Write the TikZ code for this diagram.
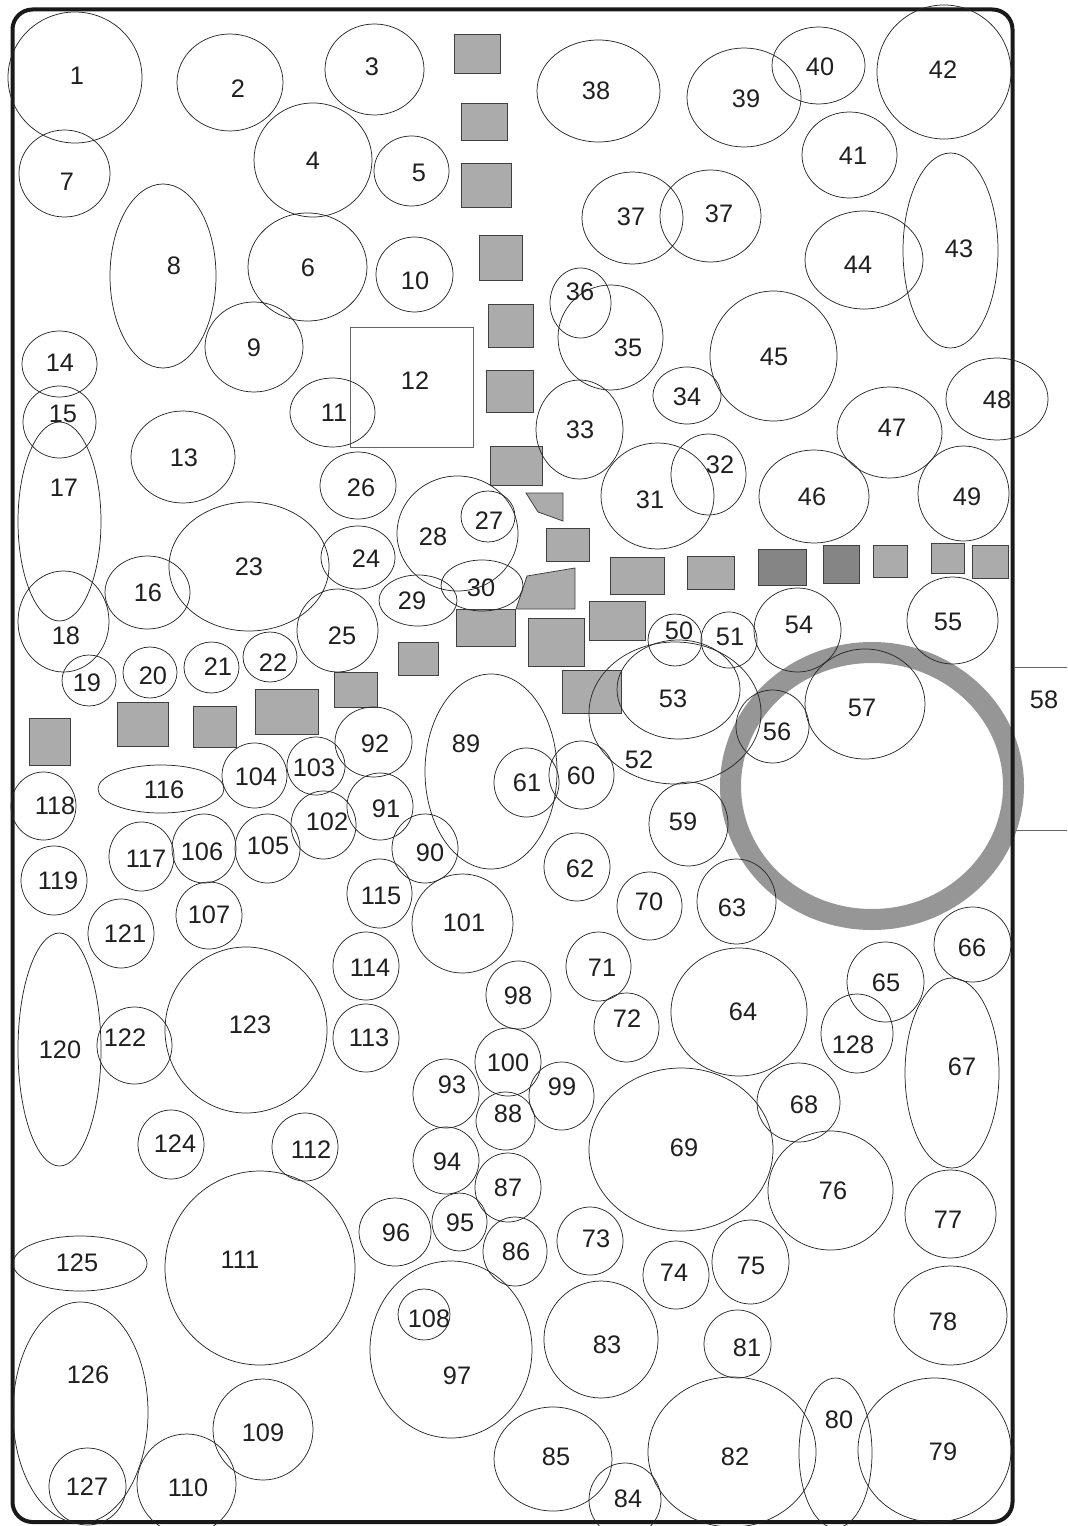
\documentclass[tikz,border=0pt]{standalone}
\usepackage{fontspec}
\setmainfont{Liberation Sans}
\begin{document}
\begin{tikzpicture}[x=0.75pt,y=-0.75pt,
  shp/.style={draw=black!85, line width=0.55pt},
  gbox/.style={fill=black!33, draw=black!75, line width=0.6pt},
  dbox/.style={fill=black!48, draw=black!75, line width=0.6pt},
  lab/.style={font=\fontsize{19}{20}\selectfont, text=black!88, inner sep=0pt},
  thinln/.style={draw=black!60, line width=0.6pt}]
\useasboundingbox (0,0) rectangle (1067,1526);
% ring
\draw[draw=black!41, line width=15.75pt] (872,786) ellipse [x radius=141.5, y radius=133.5];
% border
\draw[draw=black!90, line width=3pt, rounded corners=15pt] (12.5,9.5) rectangle (1012.5,1522);
% 58 lines
\draw[thinln] (1014,667) -- (1067,667);
\draw[thinln] (1014,830) -- (1067,830);
% rectangle 12
\draw[thinln] (350,327) rectangle (473,447);
% gray boxes
\filldraw[gbox] (454,34) rectangle (500,73);
\filldraw[gbox] (461,103) rectangle (507,140);
\filldraw[gbox] (461,163) rectangle (511,207);
\filldraw[gbox] (479,235) rectangle (522,280);
\filldraw[gbox] (488,304) rectangle (533,347);
\filldraw[gbox] (486,370) rectangle (533,412);
\filldraw[gbox] (490,446) rectangle (542,485);
\filldraw[gbox] (526,493) -- (563,493) -- (563,521) -- (538,512) -- cycle;
\filldraw[gbox] (546,528) rectangle (589,561);
\filldraw[gbox] (527,576) -- (575,568) -- (575,609) -- (516,609) -- cycle;
\filldraw[gbox] (456,609) rectangle (515,646);
\filldraw[gbox] (398,642) rectangle (438,675);
\filldraw[gbox] (528,618) rectangle (584,666);
\filldraw[gbox] (589,601) rectangle (645,640);
\filldraw[gbox] (610,557) rectangle (664,594);
\filldraw[gbox] (687,556) rectangle (734,589);
\filldraw[gbox] (562,670) rectangle (621,713);
\filldraw[dbox] (758,549) rectangle (806,585);
\filldraw[dbox] (823,545) rectangle (859,583);
\filldraw[gbox] (873,545) rectangle (907,577);
\filldraw[gbox] (931,543) rectangle (964,573);
\filldraw[gbox] (972,545) rectangle (1008,578);
\filldraw[gbox] (29,718) rectangle (70,765);
\filldraw[gbox] (117,702) rectangle (168,746);
\filldraw[gbox] (193,706) rectangle (236,747);
\filldraw[gbox] (255,689) rectangle (318,734);
\filldraw[gbox] (334,672) rectangle (377,707);
% ellipses
\foreach \cx/\cy/\rx/\ry in {
 75/77.5/67/65.5, 230/82.5/53/48.5, 374.5/69.5/49.5/45.5, 313/160/59/57,
 411.5/171/37.5/35, 307.5/267/59.5/54, 64.5/173.5/45.5/43.5, 163/276/53/92,
 254/347/49/45, 414.5/274.5/38.5/37.5, 332.5/412.5/42.5/34.5, 183/457/52/46,
 59.5/364/37.5/33, 59.5/422/36.5/36, 147.5/592.5/42.5/36.5, 59.5/521.5/41.5/99.5,
 63.5/621.5/45.5/50.5, 89/680.5/27/25.5, 150/672.5/27/25.5, 211.5/667.5/27.5/25.5,
 270/657/27/25, 249/566.5/80/64.5, 358/557.5/37/31.5, 337.5/630.5/40.5/41.5,
 358/485.5/38/33.5, 488/516.5/27/25.5, 457.5/533.5/60.5/57.5, 418/600.5/39/25.5,
 482/585.5/41/25.5, 657.5/496/56.5/53, 708.5/474.5/37.5/40.5, 579.5/429.5/43.5/49.5,
 687/395.5/34/28.5, 610.5/337.5/52.5/52.5, 580.5/303/30.5/35, 632.5/218/50.5/46,
 710.5/216/50.5/46, 598.5/91/61.5/51, 744/97.5/57/49.5, 818.5/65.5/46.5/38.5,
 849.5/155/47.5/43, 944/72/67/67, 950.5/250.5/47.5/97.5, 864/260/59/49,
 773.5/356/63.5/65, 814/496.5/55/46.5, 889.5/432.5/52.5/45.5, 997/399/51/41,
 963.5/493.5/45.5/47.5, 675/640/27/26, 729/640/28/28, 675/713/86/71,
 678.5/689.5/61.5/49.5, 797.5/630/43.5/42, 952.5/620.5/45.5/43.5, 772.5/726.5/36.5/36.5,
 865/704/60/55, 688.5/824/39.5/42, 581.5/775/32.5/34, 526.5/782.5/32.5/34.5,
 577/867/33/34, 736.5/901.5/39.5/42.5, 739/1012/68/64, 885.5/982/38.5/40,
 972.5/944.5/38.5/37.5, 952/1073/47/95, 798.5/1102.5/41.5/39.5, 681/1149.5/92/81.5,
 649.5/906/32.5/34, 598.5/966.5/32.5/34.5, 626.5/1027.5/32.5/34.5, 590/1241/33/34,
 676/1275/33/34, 750.5/1262/38.5/42, 830.5/1190.5/62.5/59.5, 950.5/1214/45.5/44,
 950.5/1315.5/56.5/49.5, 934.5/1450/76.5/72, 835.5/1453/36.5/75, 737.5/1344/33.5/34,
 732/1452/84/75, 601/1339.5/57/58.5, 625/1500/36/37, 553/1459/59/52,
 515/1251.5/32/34.5, 508/1187.5/33/34.5, 505.5/1121/29.5/29, 491/771.5/66/97.5,
 425/848.5/33/34.5, 380/806.5/33/33.5, 373.5/742/38.5/35, 446/1093.5/33/34.5,
 446/1160.5/33/33.5, 459.5/1222/27.5/29, 395/1232/36/34, 451/1349.5/81/88.5,
 518.5/995/32.5/34, 561.5/1096/32.5/34, 508/1062/33/34, 462.5/923.5/50.5/49.5,
 323.5/825/32.5/34, 316/766/29/29, 254.5/775.5/32.5/32.5, 267.5/848.5/32.5/34.5,
 204/848.5/32/34.5, 209/915.5/33/33.5, 424/1314.5/26/25.5, 263/1429.5/50/50.5,
 186.5/1484/49.5/50, 260/1268/95/97, 305/1147/33/34, 366/1038/33/34,
 366/966/33/34, 379.5/893.5/32.5/34.5, 161/789/63/24, 141.5/856.5/32.5/34.5,
 43.5/806/32.5/34, 54/880.5/33/34.5, 59.5/1049.5/41.5/116.5, 121/933.5/33/34.5,
 134.5/1045.5/37.5/38.5, 246/1030/81/83, 171/1144.5/33/34.5, 80/1263.5/67/27.5,
 80.5/1412.5/67.5/110.5, 87.5/1486.5/38.5/38.5, 857/1033.5/36/39.5}
 \draw[shp] (\cx,\cy) ellipse [x radius=\rx, y radius=\ry];
% labels
\node[lab] (l1) at (77,76) {1};
\node[lab] (l2) at (238,89) {2};
\node[lab] (l3) at (372,67) {3};
\node[lab] (l4) at (313,161) {4};
\node[lab] (l5) at (419,173) {5};
\node[lab] (l6) at (308,268) {6};
\node[lab] (l7) at (67,182) {7};
\node[lab] (l8) at (174,266) {8};
\node[lab] (l9) at (254,348) {9};
\node[lab] (l10) at (415,281) {10};
\node[lab] (l11) at (334,413) {11};
\node[lab] (l12) at (415,381) {12};
\node[lab] (l13) at (184,458) {13};
\node[lab] (l14) at (60,363) {14};
\node[lab] (l15) at (63,414) {15};
\node[lab] (l16) at (148,593) {16};
\node[lab] (l17) at (64,488) {17};
\node[lab] (l18) at (66,636) {18};
\node[lab] (l19) at (87,683) {19};
\node[lab] (l20) at (153,676) {20};
\node[lab] (l21) at (218,667) {21};
\node[lab] (l22) at (273,663) {22};
\node[lab] (l23) at (249,567) {23};
\node[lab] (l24) at (366,559) {24};
\node[lab] (l25) at (342,636) {25};
\node[lab] (l26) at (361,488) {26};
\node[lab] (l27) at (489,521) {27};
\node[lab] (l28) at (433,537) {28};
\node[lab] (l29) at (412,601) {29};
\node[lab] (l30) at (481,588) {30};
\node[lab] (l31) at (650,500) {31};
\node[lab] (l32) at (720,465) {32};
\node[lab] (l33) at (580,430) {33};
\node[lab] (l34) at (687,397) {34};
\node[lab] (l35) at (628,348) {35};
\node[lab] (l36) at (580,292) {36};
\node[lab] (l37a) at (631,217) {37};
\node[lab] (l37b) at (719,214) {37};
\node[lab] (l38) at (596,91) {38};
\node[lab] (l39) at (746,99) {39};
\node[lab] (l40) at (820,67) {40};
\node[lab] (l41) at (853,156) {41};
\node[lab] (l42) at (943,70) {42};
\node[lab] (l43) at (959,249) {43};
\node[lab] (l44) at (858,265) {44};
\node[lab] (l45) at (774,357) {45};
\node[lab] (l46) at (812,497) {46};
\node[lab] (l47) at (892,428) {47};
\node[lab] (l48) at (997,400) {48};
\node[lab] (l49) at (967,497) {49};
\node[lab] (l50) at (679,631) {50};
\node[lab] (l51) at (730,637) {51};
\node[lab] (l52) at (639,760) {52};
\node[lab] (l53) at (673,699) {53};
\node[lab] (l54) at (799,625) {54};
\node[lab] (l55) at (948,622) {55};
\node[lab] (l56) at (777,732) {56};
\node[lab] (l57) at (862,708) {57};
\node[lab] (l58) at (1044,700) {58};
\node[lab] (l59) at (683,822) {59};
\node[lab] (l60) at (581,776) {60};
\node[lab] (l61) at (527,783) {61};
\node[lab] (l62) at (580,869) {62};
\node[lab] (l63) at (732,908) {63};
\node[lab] (l64) at (743,1012) {64};
\node[lab] (l65) at (886,983) {65};
\node[lab] (l66) at (972,948) {66};
\node[lab] (l67) at (962,1067) {67};
\node[lab] (l68) at (804,1105) {68};
\node[lab] (l69) at (684,1148) {69};
\node[lab] (l70) at (649,902) {70};
\node[lab] (l71) at (602,968) {71};
\node[lab] (l72) at (627,1019) {72};
\node[lab] (l73) at (596,1239) {73};
\node[lab] (l74) at (674,1273) {74};
\node[lab] (l75) at (751,1266) {75};
\node[lab] (l76) at (833,1191) {76};
\node[lab] (l77) at (948,1220) {77};
\node[lab] (l78) at (943,1322) {78};
\node[lab] (l79) at (943,1452) {79};
\node[lab] (l80) at (839,1420) {80};
\node[lab] (l81) at (747,1348) {81};
\node[lab] (l82) at (735,1457) {82};
\node[lab] (l83) at (607,1345) {83};
\node[lab] (l84) at (628,1499) {84};
\node[lab] (l85) at (556,1457) {85};
\node[lab] (l86) at (516,1252) {86};
\node[lab] (l87) at (508,1188) {87};
\node[lab] (l88) at (508,1114) {88};
\node[lab] (l89) at (466,744) {89};
\node[lab] (l90) at (430,853) {90};
\node[lab] (l91) at (386,809) {91};
\node[lab] (l92) at (375,744) {92};
\node[lab] (l93) at (452,1085) {93};
\node[lab] (l94) at (447,1162) {94};
\node[lab] (l95) at (460,1223) {95};
\node[lab] (l96) at (396,1233) {96};
\node[lab] (l97) at (457,1376) {97};
\node[lab] (l98) at (518,996) {98};
\node[lab] (l99) at (562,1087) {99};
\node[lab] (l100) at (508,1063) {100};
\node[lab] (l101) at (464,923) {101};
\node[lab] (l102) at (327,822) {102};
\node[lab] (l103) at (314,768) {103};
\node[lab] (l104) at (256,777) {104};
\node[lab] (l105) at (268,846) {105};
\node[lab] (l106) at (202,852) {106};
\node[lab] (l107) at (209,915) {107};
\node[lab] (l108) at (429,1319) {108};
\node[lab] (l109) at (263,1433) {109};
\node[lab] (l110) at (188,1488) {110};
\node[lab] (l111) at (240,1260) {111};
\node[lab] (l112) at (311,1150) {112};
\node[lab] (l113) at (369,1038) {113};
\node[lab] (l114) at (370,968) {114};
\node[lab] (l115) at (381,896) {115};
\node[lab] (l116) at (164,790) {116};
\node[lab] (l117) at (146,859) {117};
\node[lab] (l118) at (55,806) {118};
\node[lab] (l119) at (58,881) {119};
\node[lab] (l120) at (60,1050) {120};
\node[lab] (l121) at (125,934) {121};
\node[lab] (l122) at (125,1038) {122};
\node[lab] (l123) at (250,1025) {123};
\node[lab] (l124) at (175,1144) {124};
\node[lab] (l125) at (77,1263) {125};
\node[lab] (l126) at (88,1375) {126};
\node[lab] (l127) at (87,1487) {127};
\node[lab] (l128) at (853,1045) {128};
\end{tikzpicture}
\end{document}
